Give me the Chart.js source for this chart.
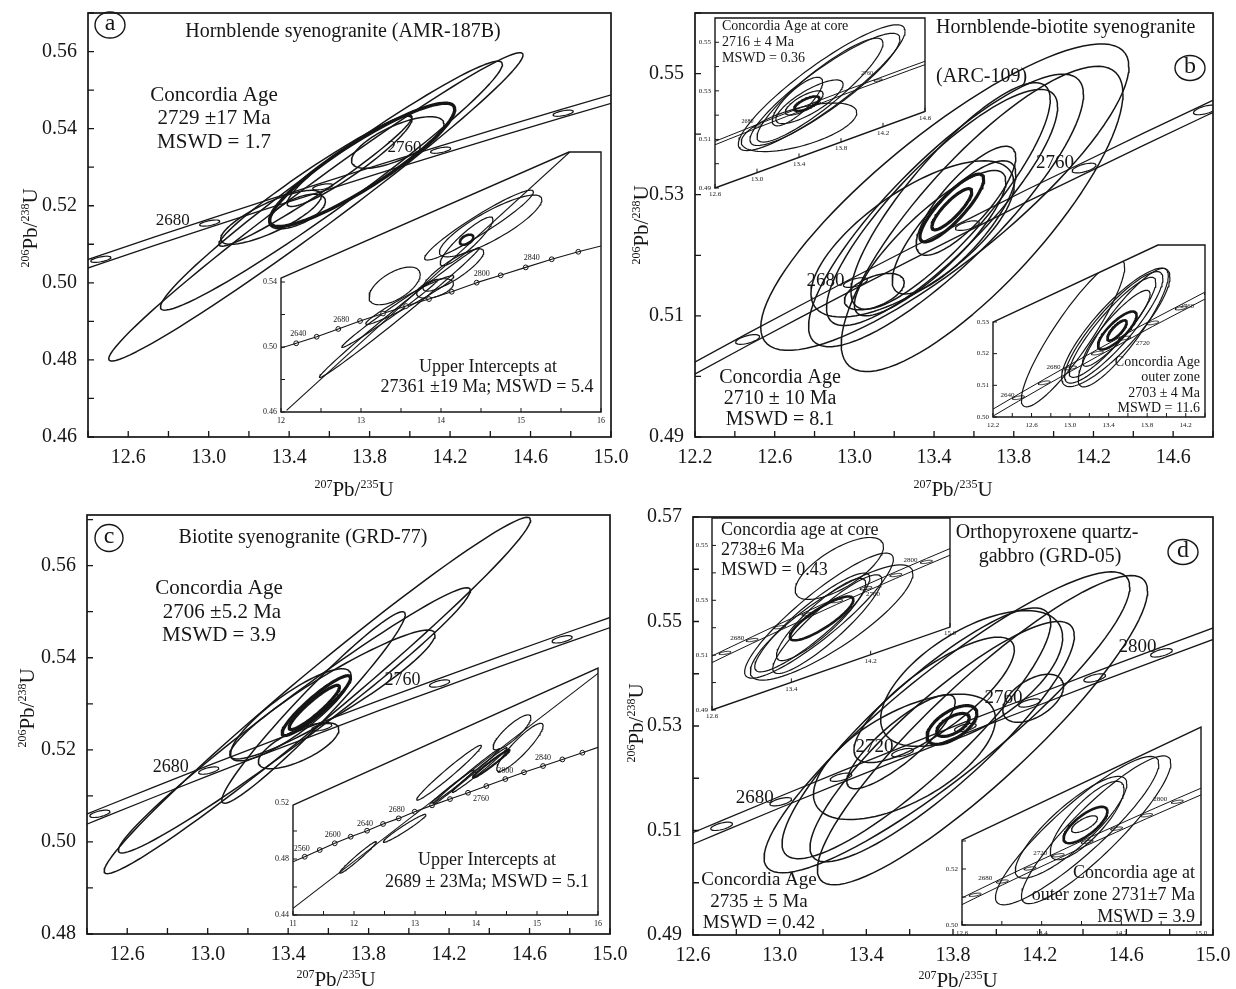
<!DOCTYPE html>
<html>
<head>
<meta charset="utf-8">
<script src="https://cdn.jsdelivr.net/npm/chart.js@4.4.1/dist/chart.umd.min.js"></script>
<style>
  html, body { margin: 0; padding: 0; background: #fff; }
  #fig { position: relative; width: 1236px; height: 989px; overflow: hidden; background: #fff; }
  #fig canvas { position: absolute; left: 0; top: 0; }
</style>
</head>
<body>
<div id="fig"></div>
<script>
// ---------------------------------------------------------------
// Concordia reference ages and ratios (Ma, 207Pb/235U, 206Pb/238U)
// ---------------------------------------------------------------
const CONC_AGE = [2560, 2580, 2600, 2620, 2640, 2660, 2680, 2700, 2720, 2740, 2760, 2780, 2800, 2820, 2840, 2860, 2880];
const CONC_R75 = [11.444, 11.691, 11.944, 12.201, 12.464, 12.732, 13.005, 13.283, 13.567, 13.857, 14.153, 14.454, 14.762, 15.075, 15.395, 15.721, 16.054];
const CONC_R68 = [0.4875, 0.4922, 0.4968, 0.5014, 0.5061, 0.5108, 0.5155, 0.5202, 0.5249, 0.5297, 0.5344, 0.5392, 0.5440, 0.5488, 0.5536, 0.5584, 0.5632];

// Error ellipses: [207Pb/235U, ±, 206Pb/238U, ±, error correlation]
// (a) Hornblende syenogranite AMR-187B
const A_ELL = [
  [13.533, 1.030, 0.5197, 0.0400, 0.985],
  [13.610, 0.850, 0.5252, 0.0323, 0.975],
  [13.531, 0.480, 0.5265, 0.0170, 0.970],
  [13.700, 0.310, 0.5315, 0.0117, 0.930],
  [13.940, 0.230, 0.5364, 0.0067, 0.700],
  [13.310, 0.250, 0.5170, 0.0070, 0.800],
  [13.440, 0.140, 0.5185, 0.0045, 0.600],
  [13.763, 0.460, 0.5306, 0.0160, 0.900]
];
const A_MARKERS = [2640, 2680, 2720, 2760, 2800];
const A_XTICKS = [12.4, 12.6, 12.8, 13.0, 13.2, 13.4, 13.6, 13.8, 14.0, 14.2, 14.4, 14.6, 14.8, 15.0];
const A_XLABELS = [12.6, 13.0, 13.4, 13.8, 14.2, 14.6, 15.0];
const A_YTICKS = [0.46, 0.47, 0.48, 0.49, 0.50, 0.51, 0.52, 0.53, 0.54, 0.55, 0.56, 0.57];
const A_YLABELS = [0.46, 0.48, 0.50, 0.52, 0.54, 0.56];

// (a) inset: upper intercept plot
const IA_ELL = [
  [13.480, 1.000, 0.5212, 0.0400, 0.995],
  [13.360, 0.600, 0.5207, 0.0210, 0.990],
  [13.610, 0.550, 0.5289, 0.0150, 0.970],
  [13.420, 0.320, 0.5376, 0.0116, 0.600],
  [13.925, 0.230, 0.5360, 0.0060, 0.500],
  [14.154, 0.380, 0.5474, 0.0130, 0.850],
  [14.475, 0.680, 0.5750, 0.0215, 0.950],
  [14.620, 0.640, 0.5745, 0.0190, 0.850],
  [14.320, 0.330, 0.5650, 0.0150, 0.900],
  [14.320, 0.085, 0.5660, 0.0031, 0.500]
];
const IA_CONC_AGE = [2640, 2660, 2680, 2700, 2720, 2740, 2760, 2780, 2800, 2820, 2840, 2860, 2880];
const IA_CONC_X = [12.190, 12.446, 12.716, 12.988, 13.275, 13.563, 13.850, 14.134, 14.446, 14.746, 15.059, 15.384, 15.716];
const IA_CONC_Y = [0.5023, 0.5063, 0.5111, 0.5160, 0.5206, 0.5252, 0.5295, 0.5340, 0.5396, 0.5441, 0.5490, 0.5540, 0.5586];
const IA_CONC_ENDS = [[12.0, 0.4994], [16.0, 0.5622]];
const IA_DISCORDIA = [[12.07, 0.461], [15.61, 0.620]];
const IA_XTICKS = [12, 12.5, 13, 13.5, 14, 14.5, 15, 15.5, 16];
const IA_XLABELS = [12, 13, 14, 15, 16];
const IA_YTICKS = [0.46, 0.48, 0.50, 0.52, 0.54];
const IA_YLABELS = [0.46, 0.50, 0.54];

// (b) Hornblende-biotite syenogranite ARC-109
const B_ELL = [
  [13.454, 0.924, 0.5296, 0.0253, 0.85],
  [13.641, 0.707, 0.5260, 0.0252, 0.82],
  [13.460, 0.690, 0.5274, 0.0225, 0.85],
  [13.440, 0.580, 0.5279, 0.0195, 0.85],
  [13.483, 0.500, 0.5298, 0.0187, 0.85],
  [13.292, 0.510, 0.5227, 0.0129, 0.70],
  [13.380, 0.380, 0.5220, 0.0120, 0.85],
  [13.500, 0.310, 0.5246, 0.0110, 0.80],
  [13.560, 0.250, 0.5290, 0.0090, 0.80],
  [13.100, 0.150, 0.5140, 0.0030, 0.50],
  [13.489, 0.160, 0.5278, 0.0056, 0.85],
  [13.489, 0.100, 0.5276, 0.0034, 0.85]
];
const B_MARKERS = [2640, 2680, 2720, 2760, 2800];
const B_XTICKS = [12.2, 12.4, 12.6, 12.8, 13.0, 13.2, 13.4, 13.6, 13.8, 14.0, 14.2, 14.4, 14.6, 14.8];
const B_XLABELS = [12.2, 12.6, 13.0, 13.4, 13.8, 14.2, 14.6];
const B_YTICKS = [0.49, 0.50, 0.51, 0.52, 0.53, 0.54, 0.55, 0.56];
const B_YLABELS = [0.49, 0.51, 0.53, 0.55];

// (b) inset: core domains
const IB1_ELL = [
  [13.616, 0.794, 0.5313, 0.0259, 0.90],
  [13.647, 0.714, 0.5306, 0.0231, 0.90],
  [13.600, 0.600, 0.5303, 0.0214, 0.90],
  [13.400, 0.550, 0.5150, 0.0100, 0.60],
  [13.385, 0.240, 0.5256, 0.0100, 0.80],
  [13.500, 0.320, 0.5255, 0.0090, 0.80],
  [13.450, 0.180, 0.5250, 0.0050, 0.75],
  [13.475, 0.120, 0.5247, 0.0030, 0.70]
];
const IB1_MARKERS = [2680, 2720, 2760, 2800];
const IB1_XLABELS = [12.6, 13.0, 13.4, 13.8, 14.2, 14.6];
const IB1_YTICKS = [0.49, 0.50, 0.51, 0.52, 0.53, 0.54, 0.55];
const IB1_YLABELS = [0.49, 0.51, 0.53, 0.55];

// (b) inset: outer zones
const IB2_ELL = [
  [13.030, 0.536, 0.5264, 0.0232, 0.90],
  [13.474, 0.562, 0.5283, 0.0187, 0.85],
  [13.453, 0.510, 0.5283, 0.0176, 0.88],
  [13.440, 0.450, 0.5283, 0.0158, 0.90],
  [13.552, 0.467, 0.5282, 0.0187, 0.88],
  [13.480, 0.350, 0.5280, 0.0120, 0.90],
  [13.490, 0.200, 0.5273, 0.0060, 0.80],
  [13.487, 0.100, 0.5273, 0.0032, 0.80]
];
const IB2_MARKERS = [2640, 2660, 2680, 2700, 2720, 2740, 2760, 2780];
const IB2_XTICKS = [12.2, 12.4, 12.6, 12.8, 13.0, 13.2, 13.4, 13.6, 13.8, 14.0, 14.2, 14.4];
const IB2_XLABELS = [12.2, 12.6, 13.0, 13.4, 13.8, 14.2];
const IB2_YTICKS = [0.50, 0.51, 0.52, 0.53];
const IB2_YLABELS = [0.50, 0.51, 0.52, 0.53];

// (c) Biotite syenogranite GRD-77
const C_ELL = [
  [13.545, 1.060, 0.5318, 0.0387, 0.985],
  [13.431, 0.875, 0.5264, 0.0288, 0.980],
  [13.526, 0.456, 0.5292, 0.0208, 0.970],
  [13.620, 0.510, 0.5320, 0.0140, 0.930],
  [13.413, 0.300, 0.5276, 0.0100, 0.850],
  [13.452, 0.200, 0.5209, 0.0050, 0.700],
  [13.540, 0.170, 0.5296, 0.0065, 0.920],
  [13.530, 0.125, 0.5292, 0.0048, 0.920]
];
const C_MARKERS = [2640, 2680, 2720, 2760, 2800];
const C_YTICKS = [0.48, 0.49, 0.50, 0.51, 0.52, 0.53, 0.54, 0.55, 0.56, 0.57];
const C_YLABELS = [0.48, 0.50, 0.52, 0.54, 0.56];

// (c) inset: upper intercept plot
const IC_ELL = [
  [12.066, 0.300, 0.4811, 0.0113, 0.980],
  [12.831, 0.350, 0.5019, 0.0100, 0.970],
  [13.558, 0.530, 0.5416, 0.0196, 0.980],
  [14.590, 0.310, 0.5704, 0.0125, 0.850],
  [14.720, 0.380, 0.5597, 0.0172, 0.900],
  [13.840, 0.550, 0.5388, 0.0200, 0.995],
  [14.060, 0.450, 0.5435, 0.0160, 0.990],
  [13.620, 0.350, 0.5316, 0.0120, 0.990],
  [14.250, 0.300, 0.5480, 0.0100, 0.980]
];
const IC_CONC_AGE = [2560, 2580, 2600, 2620, 2640, 2660, 2680, 2700, 2720, 2740, 2760, 2780, 2800, 2820, 2840, 2860, 2880];
const IC_CONC_X = [11.192, 11.438, 11.684, 11.946, 12.214, 12.476, 12.733, 12.995, 13.279, 13.574, 13.869, 14.170, 14.481, 14.787, 15.099, 15.416, 15.744];
const IC_CONC_Y = [0.4816, 0.4864, 0.4912, 0.4959, 0.5002, 0.5050, 0.5090, 0.5138, 0.5183, 0.5228, 0.5273, 0.5321, 0.5371, 0.5419, 0.5464, 0.5511, 0.5559];
const IC_CONC_ENDS = [[11.0, 0.4780], [16.0, 0.5597]];
const IC_DISCORDIA = [[11.0, 0.4447], [16.0, 0.6126]];
const IC_XTICKS = [11, 11.5, 12, 12.5, 13, 13.5, 14, 14.5, 15, 15.5, 16];
const IC_XLABELS = [11, 12, 13, 14, 15, 16];
const IC_YTICKS = [0.44, 0.46, 0.48, 0.50, 0.52];
const IC_YLABELS = [0.44, 0.48, 0.52];

// (d) Orthopyroxene quartz-gabbro GRD-05
const D_ELL = [
  [13.772, 0.844, 0.5307, 0.0288, 0.90],
  [13.936, 0.762, 0.5292, 0.0296, 0.90],
  [13.631, 0.620, 0.5286, 0.0240, 0.88],
  [13.750, 0.610, 0.5270, 0.0230, 0.88],
  [13.886, 0.420, 0.5391, 0.0130, 0.60],
  [13.576, 0.420, 0.5241, 0.0120, 0.60],
  [13.713, 0.370, 0.5350, 0.0120, 0.80],
  [14.170, 0.140, 0.5353, 0.0046, 0.50],
  [13.560, 0.250, 0.5270, 0.0090, 0.85],
  [13.795, 0.115, 0.5302, 0.0037, 0.60],
  [13.800, 0.075, 0.5302, 0.0022, 0.60]
];
const D_MARKERS = [2660, 2680, 2700, 2720, 2740, 2760, 2780, 2800];
const D_XTICKS = [12.6, 12.8, 13.0, 13.2, 13.4, 13.6, 13.8, 14.0, 14.2, 14.4, 14.6, 14.8, 15.0];
const D_XLABELS = [12.6, 13.0, 13.4, 13.8, 14.2, 14.6, 15.0];
const D_YTICKS = [0.49, 0.50, 0.51, 0.52, 0.53, 0.54, 0.55, 0.56, 0.57];
const D_YLABELS = [0.49, 0.51, 0.53, 0.55, 0.57];

// (d) inset: cores
const ID1_ELL = [
  [13.884, 0.445, 0.5416, 0.0113, 0.70],
  [13.679, 0.750, 0.5244, 0.0228, 0.90],
  [13.806, 0.820, 0.5219, 0.0210, 0.85],
  [13.611, 0.580, 0.5219, 0.0180, 0.90],
  [13.763, 0.550, 0.5213, 0.0180, 0.90],
  [13.700, 0.450, 0.5230, 0.0150, 0.88],
  [13.705, 0.320, 0.5234, 0.0080, 0.85]
];
const ID1_MARKERS = [2660, 2680, 2700, 2720, 2740, 2760, 2780, 2800, 2820];
const ID1_XLABELS = [12.6, 13.4, 14.2, 15.0];
const ID1_YTICKS = [0.49, 0.50, 0.51, 0.52, 0.53, 0.54, 0.55];
const ID1_YLABELS = [0.49, 0.51, 0.53, 0.55];

// (d) inset: outer zones
const ID2_ELL = [
  [13.756, 0.820, 0.5337, 0.0265, 0.90],
  [13.947, 0.750, 0.5340, 0.0264, 0.90],
  [13.695, 0.560, 0.5349, 0.0182, 0.85],
  [13.857, 0.370, 0.5373, 0.0140, 0.80],
  [13.840, 0.220, 0.5357, 0.0065, 0.75],
  [13.830, 0.130, 0.5360, 0.0030, 0.70]
];
const ID2_MARKERS = [2660, 2680, 2700, 2720, 2740, 2760, 2780, 2800, 2820];
const ID2_XTICKS = [12.6, 13.0, 13.4, 13.8, 14.2, 14.6, 15.0];
const ID2_XLABELS = [12.6, 13.4, 14.2, 15.0];
const ID2_YTICKS = [0.50, 0.51, 0.52, 0.53];
const ID2_YLABELS = [0.50, 0.52];

// ---------------------------------------------------------------
// Drawing helpers
// ---------------------------------------------------------------
const SERIF = '"Liberation Serif", "Times New Roman", serif';
const INK = '#161616';
const W = 1236, H = 989;
const fig = document.getElementById('fig');
Chart.defaults.font.family = SERIF;
Chart.defaults.color = INK;

function ellipsePts(e, n) {
  const [x, sx, y, sy, r] = e;
  const q = Math.sqrt(1 - r * r);
  const pts = [];
  for (let i = 0; i <= n; i++) {
    const t = 2 * Math.PI * i / n;
    pts.push({ x: x + sx * Math.cos(t), y: y + sy * (r * Math.cos(t) + q * Math.sin(t)) });
  }
  return pts;
}
function curve(points, w) {
  return { data: points, showLine: true, borderColor: INK, borderWidth: w, pointRadius: 0,
           fill: false, tension: 0, borderJoinStyle: 'round' };
}
function ellipseSets(list, thick, wThin, wThick) {
  return list.map((e, i) => curve(ellipsePts(e, 96), thick.includes(i) ? wThick : wThin));
}
// concordia envelope: two limbs either side of the reference points
function bandSets(half, w) {
  const up = CONC_AGE.map((a, i) => ({ x: CONC_R75[i], y: CONC_R68[i] + half }));
  const dn = CONC_AGE.map((a, i) => ({ x: CONC_R75[i], y: CONC_R68[i] - half }));
  return [curve(up, w), curve(dn, w)];
}
function markerSets(ages, sx, sy, rho, w) {
  return ages.map(a => {
    const i = CONC_AGE.indexOf(a);
    return curve(ellipsePts([CONC_R75[i], sx, CONC_R68[i], sy, rho], 40), w);
  });
}
function circleConcordia(xs, ys, ends, w) {
  const pts = xs.map((x, i) => ({ x, y: ys[i] }));
  const line = curve([{ x: ends[0][0], y: ends[0][1] }, ...pts, { x: ends[1][0], y: ends[1][1] }], w);
  const dots = { data: pts, showLine: false, pointRadius: 2.4, pointStyle: 'circle',
                 pointBackgroundColor: '#fff', pointBorderColor: INK, pointBorderWidth: 1 };
  return [line, dots];
}
const MAIN_CONC = { age: CONC_AGE, x: CONC_R75, y: CONC_R68 };

function polyPath(chart, poly) {
  const a = chart.chartArea, ctx = chart.ctx;
  const w = a.right - a.left, h = a.bottom - a.top;
  ctx.beginPath();
  poly.forEach(([fx, fy], i) => {
    const X = a.left + fx * w, Y = a.top + fy * h;
    if (i === 0) ctx.moveTo(X, Y); else ctx.lineTo(X, Y);
  });
  ctx.closePath();
}

function isoTitle(ctx, cx, cy, parts, size, vertical) {
  const big = size + 'px ' + SERIF, small = Math.round(size * 0.56) + 'px ' + SERIF;
  let w = 0;
  parts.forEach(([t, s]) => { ctx.font = s ? small : big; w += ctx.measureText(t).width; });
  ctx.save();
  ctx.translate(cx, cy);
  if (vertical) ctx.rotate(-Math.PI / 2);
  ctx.fillStyle = INK; ctx.textAlign = 'left'; ctx.textBaseline = 'alphabetic';
  let x = -w / 2;
  const base = size * 0.34;
  parts.forEach(([t, s]) => {
    ctx.font = s ? small : big;
    ctx.fillText(t, x, s ? base - size * 0.40 : base);
    x += ctx.measureText(t).width;
  });
  ctx.restore();
}

function makeDeco(spec) {
  return {
    id: 'deco',
    beforeDraw(chart) {
      if (!spec.poly) return;
      const ctx = chart.ctx;
      ctx.save(); polyPath(chart, spec.poly); ctx.fillStyle = '#fff'; ctx.fill(); ctx.restore();
    },
    beforeDatasetsDraw(chart) {
      if (!spec.poly) return;
      chart.ctx.save(); polyPath(chart, spec.poly); chart.ctx.clip();
    },
    afterDatasetsDraw(chart) {
      if (spec.poly) chart.ctx.restore();
    },
    afterDraw(chart) {
      const ctx = chart.ctx, a = chart.chartArea, xs = chart.scales.x, ys = chart.scales.y;
      const h = a.bottom - a.top;
      ctx.save();
      ctx.strokeStyle = INK; ctx.fillStyle = INK;
      // frame
      ctx.lineWidth = spec.frameW;
      if (spec.poly) { polyPath(chart, spec.poly); ctx.stroke(); }
      else ctx.strokeRect(a.left, a.top, a.right - a.left, h);
      // inward tick marks
      const bottomAt = (p) => spec.slant != null
        ? a.bottom + (p - a.left) / (a.right - a.left) * (a.top + spec.slant * h - a.bottom)
        : a.bottom;
      const yTop = spec.poly ? a.top + spec.poly[0][1] * h : a.top;
      ctx.lineWidth = spec.tickW;
      ctx.beginPath();
      spec.xTicks.forEach(v => {
        const p = xs.getPixelForValue(v), yb = bottomAt(p);
        ctx.moveTo(p, yb); ctx.lineTo(p, yb - spec.tickLen);
      });
      spec.yTicks.forEach(v => {
        const p = ys.getPixelForValue(v);
        if (p < yTop - 0.5) return;
        ctx.moveTo(a.left, p); ctx.lineTo(a.left + spec.tickLen, p);
      });
      ctx.stroke();
      // tick labels along a slanted lower edge
      if (spec.slant != null) {
        ctx.font = spec.tickSize + 'px ' + SERIF;
        ctx.textAlign = 'center'; ctx.textBaseline = 'top';
        spec.xLabels.forEach(v => {
          const p = xs.getPixelForValue(v);
          ctx.fillText(v.toFixed(1), p, bottomAt(p) + 3);
        });
      }
      // age labels on the concordia
      if (spec.ageLabels) {
        ctx.font = spec.ageSize + 'px ' + SERIF;
        ctx.textAlign = 'center'; ctx.textBaseline = 'middle';
        spec.ageLabels.forEach(([age, dx, dy]) => {
          const i = spec.conc.age.indexOf(age);
          ctx.fillText(String(age), xs.getPixelForValue(spec.conc.x[i]) + dx, ys.getPixelForValue(spec.conc.y[i]) + dy);
        });
      }
      // free text
      (spec.texts || []).forEach(([t, x, y, size, align]) => {
        ctx.font = size + 'px ' + SERIF;
        ctx.textAlign = align || 'center'; ctx.textBaseline = 'middle';
        ctx.fillText(t, x, y);
      });
      // circled panel letter
      if (spec.letter) {
        const L = spec.letter;
        ctx.lineWidth = 1.4;
        ctx.beginPath(); ctx.ellipse(L.x, L.y, L.rx, L.ry, 0, 0, 2 * Math.PI); ctx.stroke();
        ctx.font = '24px ' + SERIF; ctx.textAlign = 'center'; ctx.textBaseline = 'middle';
        ctx.fillText(L.t, L.x, L.y - 1);
      }
      // isotope axis titles
      if (spec.xTitle) isoTitle(ctx, spec.xTitle.x, spec.xTitle.y, [['207', 1], ['Pb/', 0], ['235', 1], ['U', 0]], 21, false);
      if (spec.yTitle) isoTitle(ctx, spec.yTitle.x, spec.yTitle.y, [['206', 1], ['Pb/', 0], ['238', 1], ['U', 0]], 21, true);
      ctx.restore();
    }
  };
}

function build(spec) {
  const cv = document.createElement('canvas');
  cv.width = W; cv.height = H;
  fig.appendChild(cv);
  const f = spec.frame;
  const xShown = spec.slant == null;
  const xH = xShown ? spec.xH : 0;
  const yW = spec.yW;
  const fmt = (list, dec) => (v) => list.some(m => Math.abs(m - v) < 1e-6) ? Number(v).toFixed(dec) : '';
  // axis boxes keep the exact frame: fixed size, no extra label padding
  const fixBox = (size, horizontal) => (s) => {
    if (horizontal) s.height = size; else s.width = size;
    s.paddingTop = 0; s.paddingBottom = 0; s.paddingLeft = 0; s.paddingRight = 0;
  };
  return new Chart(cv, {
    type: 'scatter',
    data: { datasets: spec.datasets },
    options: {
      responsive: false, animation: false, devicePixelRatio: 1, events: [],
      layout: { padding: { left: f.l - yW, top: f.t, right: W - f.r, bottom: H - f.b - xH } },
      plugins: { legend: { display: false }, tooltip: { enabled: false } },
      scales: {
        x: {
          type: 'linear', display: xShown, min: spec.xMin, max: spec.xMax,
          afterFit: fixBox(xH, true),
          afterBuildTicks: s => { s.ticks = spec.xTicks.map(v => ({ value: v })); },
          ticks: { autoSkip: false, maxRotation: 0, minRotation: 0, padding: spec.xPad,
                   font: { size: spec.tickSize }, color: INK, callback: fmt(spec.xLabels, spec.xDec) },
          grid: { display: false, drawTicks: false }, border: { display: false }
        },
        y: {
          type: 'linear', min: spec.yMin, max: spec.yMax,
          afterFit: fixBox(yW, false),
          afterBuildTicks: s => { s.ticks = spec.yTicks.map(v => ({ value: v })); },
          ticks: { autoSkip: false, padding: spec.yPad, font: { size: spec.tickSize }, color: INK,
                   callback: fmt(spec.yLabels, spec.yDec) },
          grid: { display: false, drawTicks: false }, border: { display: false }
        }
      }
    },
    plugins: [makeDeco(spec)]
  });
}

const MAIN = { xH: 50, tickSize: 20, xPad: 9, yPad: 11, tickLen: 6, frameW: 1.7, tickW: 1.3, xDec: 1, yDec: 2 };
const INSET = { xH: 20, tickSize: 8, xPad: 4, yPad: 4, tickLen: 4, frameW: 1.4, tickW: 1, yDec: 2 };

// ------------------------------ (a) ------------------------------
build(Object.assign({}, MAIN, {
  frame: { l: 88, t: 13, r: 611, b: 437 }, yW: 88,
  xMin: 12.4, xMax: 15.0, yMin: 0.46, yMax: 0.570,
  xTicks: A_XTICKS, xLabels: A_XLABELS, yTicks: A_YTICKS, yLabels: A_YLABELS,
  datasets: [...bandSets(0.0011, 1.3), ...markerSets(A_MARKERS, 0.05, 0.0008, 0.6, 1.2),
             ...ellipseSets(A_ELL, [7], 1.5, 3.4)],
  conc: MAIN_CONC, ageLabels: [[2680, -37, -3], [2760, -36, -3]], ageSize: 17,
  texts: [['Hornblende syenogranite (AMR-187B)', 343, 32, 20],
          ['Concordia Age', 214, 95, 21], ['2729 \u00b117 Ma', 214, 118, 21], ['MSWD = 1.7', 214, 142, 21]],
  letter: { t: 'a', x: 110, y: 25, rx: 15, ry: 13 },
  xTitle: { x: 354, y: 489 }, yTitle: { x: 30, y: 228 }
}));
build(Object.assign({}, INSET, {
  frame: { l: 281, t: 152, r: 601, b: 412 }, yW: 30, xDec: 0,
  xMin: 12, xMax: 16, yMin: 0.46, yMax: 0.62,
  xTicks: IA_XTICKS, xLabels: IA_XLABELS, yTicks: IA_YTICKS, yLabels: IA_YLABELS,
  poly: [[0, 0.485], [0.9, 0], [1, 0], [1, 1], [0, 1]],
  datasets: [...circleConcordia(IA_CONC_X, IA_CONC_Y, IA_CONC_ENDS, 1.1),
             curve(IA_DISCORDIA.map(([x, y]) => ({ x, y })), 1.1),
             ...ellipseSets(IA_ELL, [9], 1.2, 2.4)],
  conc: { age: IA_CONC_AGE, x: IA_CONC_X, y: IA_CONC_Y },
  ageLabels: [[2640, 2, -9], [2680, 3, -9], [2800, 5, -9], [2840, 6, -9]], ageSize: 8,
  texts: [['Upper Intercepts at', 488, 367, 18], ['27361 \u00b119 Ma; MSWD = 5.4', 487, 387, 18]]
}));

// ------------------------------ (b) ------------------------------
build(Object.assign({}, MAIN, {
  frame: { l: 695, t: 13, r: 1213, b: 437 }, yW: 95,
  xMin: 12.2, xMax: 14.8, yMin: 0.49, yMax: 0.56,
  xTicks: B_XTICKS, xLabels: B_XLABELS, yTicks: B_YTICKS, yLabels: B_YLABELS,
  datasets: [...bandSets(0.0010, 1.3), ...markerSets(B_MARKERS, 0.06, 0.0008, 0.6, 1.2),
             ...ellipseSets(B_ELL, [10, 11], 1.5, 3.2)],
  conc: MAIN_CONC, ageLabels: [[2680, -30, -2], [2760, -29, -5]], ageSize: 19,
  texts: [['Hornblende-biotite syenogranite', 936, 28, 20, 'left'], ['(ARC-109)', 936, 77, 20, 'left'],
          ['Concordia Age', 780, 378, 20], ['2710 \u00b1 10 Ma', 780, 399, 20], ['MSWD = 8.1', 780, 420, 20]],
  letter: { t: 'b', x: 1190, y: 68, rx: 15, ry: 12.5 },
  xTitle: { x: 953, y: 489 }, yTitle: { x: 641, y: 225 }
}));
build(Object.assign({}, INSET, {
  frame: { l: 715, t: 18, r: 925, b: 188 }, yW: 20, tickSize: 7,
  xMin: 12.6, xMax: 14.6, yMin: 0.49, yMax: 0.56,
  xTicks: IB1_XLABELS, xLabels: IB1_XLABELS, yTicks: IB1_YTICKS, yLabels: IB1_YLABELS,
  poly: [[0, 0], [1, 0], [1, 0.55], [0, 1]], slant: 0.55,
  datasets: [...bandSets(0.0007, 1.0), ...markerSets(IB1_MARKERS, 0.04, 0.0005, 0.6, 0.9),
             ...ellipseSets(IB1_ELL, [7], 1.2, 2.6)],
  conc: MAIN_CONC, ageLabels: [[2680, -10, -5], [2760, -11, -7]], ageSize: 6,
  texts: [['Concordia Age at core', 722, 26, 14, 'left'], ['2716 \u00b1 4 Ma', 722, 42, 14, 'left'],
          ['MSWD = 0.36', 722, 58, 14, 'left']]
}));
build(Object.assign({}, INSET, {
  frame: { l: 993, t: 245, r: 1205, b: 417 }, yW: 22, tickSize: 7, xDec: 1,
  xMin: 12.2, xMax: 14.4, yMin: 0.50, yMax: 0.5543,
  xTicks: IB2_XTICKS, xLabels: IB2_XLABELS, yTicks: IB2_YTICKS, yLabels: IB2_YLABELS,
  poly: [[0, 0.448], [0.778, 0], [1, 0], [1, 1], [0, 1]],
  datasets: [...bandSets(0.0011, 1.0), ...markerSets(IB2_MARKERS, 0.062, 0.0006, 0.6, 0.9),
             ...ellipseSets(IB2_ELL, [6, 7], 1.2, 2.6)],
  conc: MAIN_CONC, ageLabels: [[2640, -11, -3], [2680, -17, -1], [2720, 18, 5], [2760, 6, -2]], ageSize: 7,
  texts: [['Concordia Age', 1200, 362, 14, 'right'], ['outer zone', 1200, 377, 14, 'right'],
          ['2703 \u00b1 4 Ma', 1200, 393, 14, 'right'], ['MSWD = 11.6', 1200, 408, 14, 'right']]
}));

// ------------------------------ (c) ------------------------------
build(Object.assign({}, MAIN, {
  frame: { l: 87, t: 515, r: 610, b: 934 }, yW: 87,
  xMin: 12.4, xMax: 15.0, yMin: 0.48, yMax: 0.571,
  xTicks: A_XTICKS, xLabels: A_XLABELS, yTicks: C_YTICKS, yLabels: C_YLABELS,
  datasets: [...bandSets(0.0011, 1.3), ...markerSets(C_MARKERS, 0.05, 0.0008, 0.6, 1.2),
             ...ellipseSets(C_ELL, [6, 7], 1.5, 3.2)],
  conc: MAIN_CONC, ageLabels: [[2680, -38, -3], [2760, -37, -3]], ageSize: 18,
  texts: [['Biotite syenogranite (GRD-77)', 303, 538, 20],
          ['Concordia Age', 219, 588, 21], ['2706 \u00b15.2 Ma', 222, 612, 21], ['MSWD = 3.9', 219, 635, 21]],
  letter: { t: 'c', x: 109, y: 538, rx: 14, ry: 13.5 },
  xTitle: { x: 336, y: 979 }, yTitle: { x: 27, y: 708 }
}));
build(Object.assign({}, INSET, {
  frame: { l: 293, t: 668, r: 598, b: 915 }, yW: 30, xDec: 0,
  xMin: 11, xMax: 16, yMin: 0.44, yMax: 0.6164,
  xTicks: IC_XTICKS, xLabels: IC_XLABELS, yTicks: IC_YTICKS, yLabels: IC_YLABELS,
  poly: [[0, 0.555], [1, 0], [1, 1], [0, 1]],
  datasets: [...circleConcordia(IC_CONC_X, IC_CONC_Y, IC_CONC_ENDS, 1.1),
             curve(IC_DISCORDIA.map(([x, y]) => ({ x, y })), 1.1),
             ...ellipseSets(IC_ELL, [8], 1.2, 2.2)],
  conc: { age: IC_CONC_AGE, x: IC_CONC_X, y: IC_CONC_Y },
  ageLabels: [[2560, -3, -8], [2600, -2, -8], [2640, -2, -7], [2680, -2, -8], [2760, 13, 6], [2800, 0, -8], [2840, 0, -8]],
  ageSize: 8,
  texts: [['Upper Intercepts at', 487, 860, 18], ['2689 \u00b1 23Ma; MSWD = 5.1', 487, 882, 18]]
}));

// ------------------------------ (d) ------------------------------
build(Object.assign({}, MAIN, {
  frame: { l: 693, t: 517, r: 1213, b: 935 }, yW: 95,
  xMin: 12.6, xMax: 15.0, yMin: 0.49, yMax: 0.57,
  xTicks: D_XTICKS, xLabels: D_XLABELS, yTicks: D_YTICKS, yLabels: D_YLABELS,
  datasets: [...bandSets(0.0011, 1.3), ...markerSets(D_MARKERS, 0.05, 0.0008, 0.6, 1.2),
             ...ellipseSets(D_ELL, [9, 10], 1.5, 3.2)],
  conc: MAIN_CONC, ageLabels: [[2680, -26, -4], [2720, -28, -6], [2760, -26, -5], [2800, -24, -6]], ageSize: 19,
  texts: [['Orthopyroxene quartz-', 1047, 533, 20], ['gabbro (GRD-05)', 1050, 557, 20],
          ['Concordia Age', 759, 880, 19], ['2735 \u00b1 5 Ma', 759, 902, 19], ['MSWD = 0.42', 759, 923, 19]],
  letter: { t: 'd', x: 1183, y: 552, rx: 15, ry: 12.5 },
  xTitle: { x: 958, y: 980 }, yTitle: { x: 636, y: 723 }
}));
build(Object.assign({}, INSET, {
  frame: { l: 712, t: 518, r: 950, b: 710 }, yW: 20, tickSize: 7,
  xMin: 12.6, xMax: 15.0, yMin: 0.49, yMax: 0.56,
  xTicks: ID1_XLABELS, xLabels: ID1_XLABELS, yTicks: ID1_YTICKS, yLabels: ID1_YLABELS,
  poly: [[0, 0], [1, 0], [1, 0.568], [0, 1]], slant: 0.568,
  datasets: [...bandSets(0.0012, 1.0), ...markerSets(ID1_MARKERS, 0.06, 0.0006, 0.6, 0.9),
             ...ellipseSets(ID1_ELL, [6], 1.2, 2.6)],
  conc: MAIN_CONC, ageLabels: [[2680, -15, -2], [2760, 7, 6], [2800, -16, -2]], ageSize: 7,
  texts: [['Concordia age at core', 721, 530, 18, 'left'], ['2738\u00b16 Ma', 721, 550, 18, 'left'],
          ['MSWD = 0.43', 721, 570, 18, 'left']]
}));
build(Object.assign({}, INSET, {
  frame: { l: 962, t: 727, r: 1201, b: 925 }, yW: 22, tickSize: 7, xDec: 1,
  xMin: 12.6, xMax: 15.0, yMin: 0.50, yMax: 0.5707,
  xTicks: ID2_XTICKS, xLabels: ID2_XLABELS, yTicks: ID2_YTICKS, yLabels: ID2_YLABELS,
  poly: [[0, 0.571], [1, 0], [1, 1], [0, 1]],
  datasets: [...bandSets(0.0012, 1.0), ...markerSets(ID2_MARKERS, 0.06, 0.0006, 0.6, 0.9),
             ...ellipseSets(ID2_ELL, [4], 1.2, 2.6)],
  conc: MAIN_CONC, ageLabels: [[2680, -17, -3], [2720, -18, -2], [2800, -17, -3]], ageSize: 7,
  texts: [['Concordia age at', 1195, 873, 18, 'right'], ['outer zone 2731\u00b17 Ma', 1195, 895, 18, 'right'],
          ['MSWD = 3.9', 1195, 917, 18, 'right']]
}));
</script>
</body>
</html>
